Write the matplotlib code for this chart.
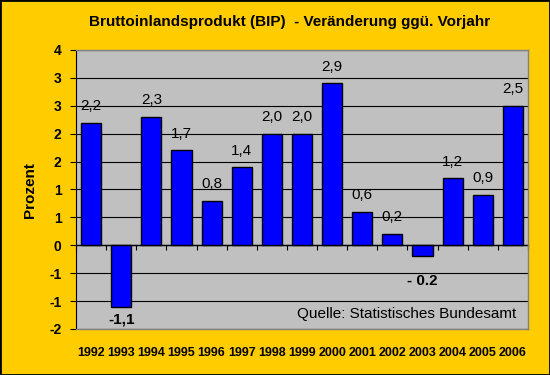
import matplotlib
matplotlib.use("Agg")
import matplotlib.pyplot as plt
import numpy as np
from matplotlib.patches import Rectangle

years = ["1992", "1993", "1994", "1995", "1996", "1997", "1998", "1999",
         "2000", "2001", "2002", "2003", "2004", "2005", "2006"]
growth = [2.2, -1.1, 2.3, 1.7, 0.8, 1.4, 2.0, 2.0, 2.9, 0.6, 0.2, -0.2, 1.2, 0.9, 2.5]
bar_labels = ["2,2", "-1,1", "2,3", "1,7", "0,8", "1,4", "2,0", "2,0",
              "2,9", "0,6", "0,2", "- 0.2", "1,2", "0,9", "2,5"]
y_ticks = [-1.5, -1.0, -0.5, 0.0, 0.5, 1.0, 1.5, 2.0, 2.5, 3.0, 3.5]
y_tick_labels = ["-2", "-1", "-1", "0", "1", "1", "2", "2", "3", "3", "4"]

title = "Bruttoinlandsprodukt (BIP)  - Veränderung ggü. Vorjahr"
ylabel = "Prozent"
source = "Quelle: Statistisches Bundesamt"

plt.rcParams['font.family'] = ['Liberation Sans', 'DejaVu Sans']

BG = "#FFCC00"
PLOT_BG = "#C0C0C0"

fig = plt.figure(figsize=(5.5, 3.75), dpi=100, facecolor=BG)
ax = fig.add_axes([76/550, 1 - 329/375, (528 - 76)/550, (329 - 50)/375])
ax.set_facecolor(PLOT_BG)

x = np.arange(len(years))
bars = ax.bar(x, growth, width=0.67, color="#0000FF", edgecolor="black",
              linewidth=1.0, zorder=3)

ymin, ymax = -1.5, 3.5
ax.set_ylim(ymin, ymax)
ax.set_xlim(-0.5, len(years) - 0.5)
ax.set_yticks(y_ticks)
ax.set_yticklabels(y_tick_labels, fontsize=10, fontweight='bold')
ax.tick_params(axis='y', length=4.5, width=0.8, pad=6, color='black')
ax.yaxis.grid(True, color='black', linewidth=0.8, zorder=1)
ax.set_axisbelow(True)

ax.set_xticks(x)
ax.set_xticklabels(years, fontsize=9, fontweight='bold')
ax.tick_params(axis='x', length=0, pad=13)

for side in ['top', 'right', 'bottom']:
    ax.spines[side].set_color('#808080')
    ax.spines[side].set_linewidth(1.0)
ax.spines['left'].set_color('black')
ax.spines['left'].set_linewidth(0.8)

# category axis crossing at zero
zero_pos = (0 - ymin) / (ymax - ymin)
sec = ax.secondary_xaxis(zero_pos)
sec.set_xticks(np.arange(-0.5, len(years), 1.0))
sec.set_xticklabels([])
sec.tick_params(axis='x', direction='out', length=3.5, width=0.8, color='black')
sec.spines['bottom'].set_color('black')
sec.spines['bottom'].set_linewidth(1.0)
sec.spines['bottom'].set_zorder(4)

neg_offsets = {1: -9, 11: -18}
for i, (v, lab) in enumerate(zip(growth, bar_labels)):
    if v >= 0:
        ax.annotate(lab, (x[i], v), xytext=(0, 12), textcoords='offset points',
                    ha='center', va='center', fontsize=11, color='black', zorder=5)
    else:
        ax.annotate(lab, (x[i], v), xytext=(0, neg_offsets.get(i, -9)),
                    textcoords='offset points', ha='center', va='center',
                    fontsize=11, fontweight='bold', color='black', zorder=5)

ax.text(0.975, 0.054, source, transform=ax.transAxes, ha='right', va='center',
        fontsize=11, color='black', zorder=5)

fig.text(0.526, 1 - 22/375, title, ha='center', va='center', fontsize=11,
         fontweight='bold')
fig.text(30/550, 1 - 190/375, ylabel, ha='center', va='center', rotation=90,
         fontsize=11, fontweight='bold')

fig.patches.append(Rectangle((0, 0), 1, 1, transform=fig.transFigure,
                             fill=False, edgecolor='black', linewidth=2.0))

fig.savefig("out.png", dpi=100, facecolor=BG)
